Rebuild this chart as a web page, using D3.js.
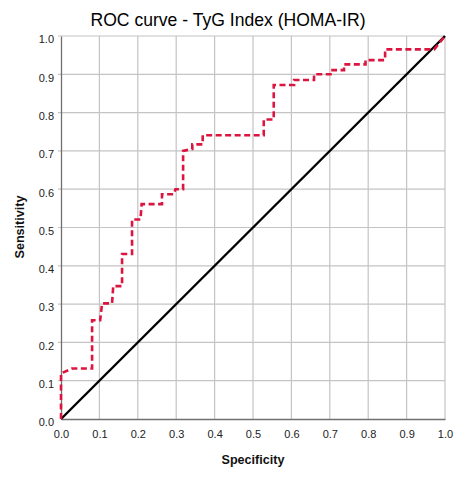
<!DOCTYPE html>
<html><head><meta charset="utf-8">
<script src="https://cdn.jsdelivr.net/npm/d3@7"></script>
<style>body{margin:0;background:#fff}svg{display:block}</style>
</head><body>
<script>
const titleText = "ROC curve - TyG Index (HOMA-IR)";
const xLabel = "Specificity";
const yLabel = "Sensitivity";
const tickValues = [0,0.1,0.2,0.3,0.4,0.5,0.6,0.7,0.8,0.9,1.0];
const rocX = [0,0,0.029,0.081,0.081,0.102,0.107,0.133,0.136,0.159,0.159,0.185,0.185,0.207,0.210,0.263,0.263,0.294,0.298,0.318,0.318,0.342,0.342,0.369,0.369,0.528,0.528,0.554,0.554,0.607,0.607,0.659,0.659,0.707,0.707,0.737,0.737,0.793,0.793,0.844,0.844,0.972,1.0];
const rocY = [0,0.119,0.132,0.132,0.258,0.258,0.302,0.302,0.347,0.347,0.431,0.431,0.521,0.521,0.561,0.561,0.587,0.587,0.600,0.600,0.700,0.705,0.717,0.717,0.741,0.741,0.782,0.782,0.872,0.872,0.885,0.885,0.900,0.900,0.911,0.911,0.926,0.926,0.937,0.937,0.965,0.965,1.0];
const refX = [0,1];
const refY = [0,1];

const W = 469, H = 479;
const svg = d3.select("body").append("svg").attr("width", W).attr("height", H);
const x = d3.scaleLinear().domain([0,1]).range([61,445]);
const y = d3.scaleLinear().domain([0,1]).range([419,36]);
const font = "'Liberation Sans', Arial, sans-serif";

// gridlines
const g = svg.append("g");
g.selectAll("line.vg").data(tickValues.slice(1)).join("line")
  .attr("x1", d=>x(d)).attr("x2", d=>x(d)).attr("y1", y(0)).attr("y2", y(1))
  .attr("stroke", "#c4c4c4").attr("stroke-width", 1.2);
g.selectAll("line.hg").data(tickValues.slice(1)).join("line")
  .attr("x1", x(0)-3).attr("x2", x(1)).attr("y1", d=>y(d)).attr("y2", d=>y(d))
  .attr("stroke", "#c4c4c4").attr("stroke-width", 1.2);

// axes
const xAxis = d3.axisBottom(x).tickValues(tickValues).tickFormat(d3.format(".1f")).tickSize(0).tickPadding(11);
const yAxis = d3.axisLeft(y).tickValues(tickValues).tickFormat(d3.format(".1f")).tickSize(0).tickPadding(7);
const gx = svg.append("g").attr("transform", `translate(0,${y(0)})`).call(xAxis);
const gy = svg.append("g").attr("transform", `translate(${x(0)},0)`).call(yAxis);
[gx, gy].forEach(a => {
  a.select(".domain").attr("stroke", "#707070").attr("stroke-width", 1.3);
  a.selectAll("text").attr("font-family", font).attr("font-size", 11).attr("fill", "#222");
});
gy.selectAll("text").attr("dy", "0.62em");

// reference diagonal
svg.append("path")
  .datum(refX.map((v,i)=>[v, refY[i]]))
  .attr("d", d3.line().x(d=>x(d[0])).y(d=>y(d[1])))
  .attr("fill", "none").attr("stroke", "#000").attr("stroke-width", 2.4);

// ROC curve
svg.append("path")
  .datum(rocX.map((v,i)=>[v, rocY[i]]))
  .attr("d", d3.line().x(d=>x(d[0])).y(d=>y(d[1])))
  .attr("fill", "none").attr("stroke", "#dc1440").attr("stroke-width", 2.6)
  .attr("stroke-dasharray", "6,3.5");

// title
svg.append("text").attr("x", 228).attr("y", 26).attr("text-anchor", "middle")
  .attr("font-family", font).attr("font-size", 19).attr("fill", "#000")
  .attr("textLength", 275).attr("lengthAdjust", "spacingAndGlyphs").text(titleText);

// axis titles
svg.append("text").attr("x", 253).attr("y", 464).attr("text-anchor", "middle")
  .attr("font-family", font).attr("font-size", 13).attr("font-weight", "bold").attr("fill", "#111")
  .attr("textLength", 63).attr("lengthAdjust", "spacingAndGlyphs").text(xLabel);
svg.append("text").attr("transform", "translate(24,227) rotate(-90)").attr("text-anchor", "middle")
  .attr("font-family", font).attr("font-size", 13).attr("font-weight", "bold").attr("fill", "#111")
  .attr("textLength", 63).attr("lengthAdjust", "spacingAndGlyphs").text(yLabel);
</script>
</body></html>
